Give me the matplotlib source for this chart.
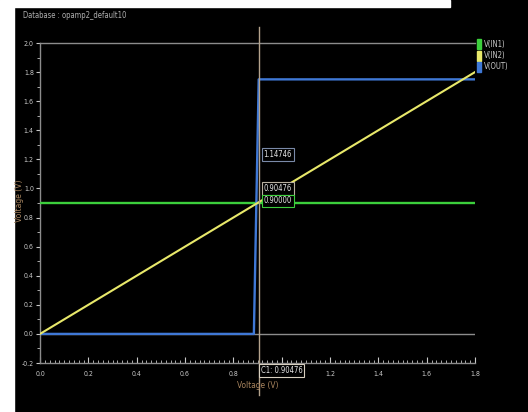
import matplotlib
matplotlib.use("Agg")
import matplotlib.pyplot as plt
from matplotlib.ticker import MultipleLocator
from matplotlib.patches import Rectangle

# traces
sweep = [0.0, 1.8]
v_in1 = [0.9, 0.9]
v_in2 = [0.0, 1.8]
out_x = [0.0, 0.885, 0.905, 1.8]
v_out = [0.0, 0.0, 1.75, 1.75]

names = ['V(IN1)', 'V(IN2)', 'V(OUT)']
colors = ['#3ccf3c', '#e8e86a', '#3f78d6']

cursor_x = 0.90476
readouts = ['1.14746', '0.90476', '0.90000']
readout_y = [1.236, 1.0, 0.914]
readout_edge = ['#7a8aa8', '#b8b0a0', '#3ccf3c']

narrow = dict(family='DejaVu Sans', stretch='condensed')

fig = plt.figure(figsize=(5.28, 4.12), dpi=100, facecolor='black')
W, H = 528.0, 412.0
# white margins of the screenshot
fig.patches.append(Rectangle((0, 0), 14 / W, 1, transform=fig.transFigure,
                             color='white', zorder=-5))
fig.patches.append(Rectangle((0, 1 - 7 / H), 450 / W, 7 / H, transform=fig.transFigure,
                             color='white', zorder=-5))

ax = fig.add_axes([40 / W, 1 - 363 / H, 435 / W, 320 / H])
ax.set_facecolor('black')
ax.set_xlim(0, 1.8)
ax.set_ylim(-0.2, 2.0)

grey = '#8c8c8c'
tickc = '#c8c8c8'
for s in ['left', 'bottom', 'top']:
    ax.spines[s].set_color(grey)
    ax.spines[s].set_linewidth(1.0)
ax.spines['right'].set_visible(False)

ax.xaxis.set_major_locator(MultipleLocator(0.2))
ax.xaxis.set_minor_locator(MultipleLocator(0.02))
ax.yaxis.set_major_locator(MultipleLocator(0.2))
ax.yaxis.set_minor_locator(MultipleLocator(0.1))
ax.tick_params(axis='x', which='major', direction='in', length=4, color=tickc,
               labelcolor=tickc, labelsize=5, pad=6)
ax.tick_params(axis='x', which='minor', direction='in', length=2.5, color=tickc)
ax.tick_params(axis='y', which='major', direction='out', length=3, color=tickc,
               labelcolor=tickc, labelsize=5, pad=1.5)
ax.tick_params(axis='y', which='minor', direction='out', length=2, color=tickc)
ax.xaxis.set_major_formatter(plt.FuncFormatter(lambda v, p: '%.1f' % v))
ax.yaxis.set_major_formatter(plt.FuncFormatter(lambda v, p: '%.1f' % v))
for lab in ax.get_xticklabels() + ax.get_yticklabels():
    lab.set_fontstretch('condensed')

# zero line
ax.axhline(0, color=grey, lw=1.0, zorder=1)

ax.plot(sweep, v_in1, color=colors[0], lw=1.7, zorder=3)
ax.plot(out_x, v_out, color=colors[2], lw=1.7, zorder=3)
ax.plot(sweep, v_in2, color=colors[1], lw=1.5, zorder=4)

# cursor
ax.axvline(cursor_x, ymin=-0.1, ymax=1.05, color='#b4a38c', lw=1.0, zorder=5,
           clip_on=False)
for txt, yv, ec in zip(readouts, readout_y, readout_edge):
    ax.text(0.925, yv, txt, color='#e6e6e6', fontsize=5.5, va='center', ha='left',
            zorder=6, bbox=dict(boxstyle='square,pad=0.25', fc='black', ec=ec, lw=0.8),
            **narrow)
ax.text(cursor_x + 0.008, -0.252, 'C1: 0.90476', color='#e6e6e6', fontsize=5.5,
        va='center', ha='left', zorder=6, clip_on=False,
        bbox=dict(boxstyle='square,pad=0.25', fc='black', ec='#d8d0c0', lw=0.8),
        **narrow)

# axis labels
lblc = '#a8845e'
fig.text(258 / W, 1 - 386 / H, 'Voltage (V)', color=lblc, fontsize=6,
         ha='center', va='center', **narrow)
fig.text(19 / W, 1 - 201 / H, 'Voltage (V)', color=lblc, fontsize=5.5, rotation=90,
         ha='center', va='center')
fig.text(23 / W, 1 - 15 / H, 'Database : opamp2_default10', color='#b0b0b0',
         fontsize=5.5, ha='left', va='center', **narrow)

# legend
for i, (nm, c) in enumerate(zip(names, colors)):
    yc = 44 + i * 11.5
    fig.patches.append(Rectangle((477 / W, 1 - (yc + 5) / H), 4 / W, 10 / H,
                                 transform=fig.transFigure, color=c))
    fig.text(484 / W, 1 - yc / H, nm, color='#c8c8c8', fontsize=5.5,
             ha='left', va='center', **narrow)

fig.savefig('out.png', dpi=100, facecolor=fig.get_facecolor())
